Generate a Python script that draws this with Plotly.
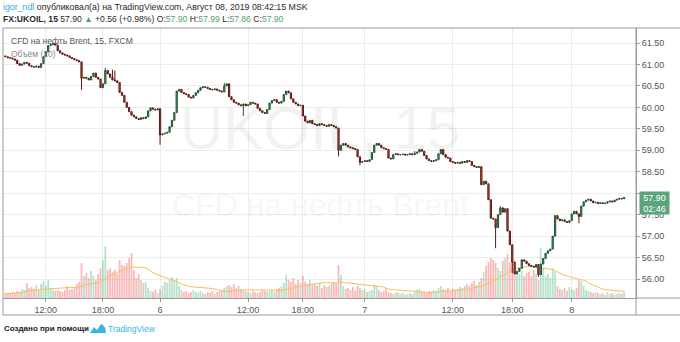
import plotly.graph_objects as go
import pandas as pd

# ---------------- data (15-min bars, FX:UKOIL) ----------------
close = [
    61.18, 61.16, 61.15, 61.13, 61.10, 61.02, 60.98, 61.01, 61.05, 61.03,
    60.97, 60.95, 60.94, 60.96, 60.93, 61.02, 61.18, 61.30, 61.44, 61.46,
    61.49, 61.45, 61.32, 61.27, 61.24, 61.22, 61.20, 61.16, 61.14, 61.11,
    61.09, 61.06, 60.68, 60.70, 60.68, 60.64, 60.72, 60.80, 60.70, 60.66,
    60.46, 60.55, 60.86, 60.78, 60.70, 60.64, 60.62, 60.58, 60.35, 60.28,
    60.12, 60.00, 59.90, 59.82, 59.78, 59.74, 59.72, 59.76, 59.74, 59.78,
    59.92, 59.99, 59.96, 59.94, 59.97, 59.36, 59.38, 59.40, 59.42, 59.55,
    59.70, 59.88, 60.38, 60.42, 60.35, 60.32, 60.30, 60.24, 60.22, 60.28,
    60.34, 60.40, 60.46, 60.48, 60.47, 60.44, 60.42, 60.41, 60.43, 60.40,
    60.38, 60.36, 60.50, 60.55, 60.25, 60.18, 60.12, 60.10, 60.06, 60.04,
    60.08, 60.04, 60.06, 60.12, 60.10, 60.08, 59.98, 59.92, 59.88, 59.86,
    59.95, 60.10, 60.16, 60.18, 60.12, 60.10, 60.14, 60.30, 60.38, 60.34,
    60.20, 60.12, 60.08, 60.04, 60.05, 59.80, 59.68, 59.64, 59.70, 59.62,
    59.60, 59.58, 59.62, 59.60, 59.58, 59.56, 59.60, 59.58, 59.55, 59.52,
    59.00, 59.12, 59.16, 59.12, 59.08, 59.06, 59.04, 59.02, 58.85, 58.72,
    58.74, 58.76, 58.74, 58.78, 58.95, 59.12, 59.16, 59.12, 59.06, 59.04,
    59.02, 58.82, 58.80, 58.90, 58.92, 58.90, 58.90, 58.91, 58.89, 58.90,
    58.92, 58.90, 58.93, 58.96, 59.02, 58.98, 58.88, 58.80, 58.76, 58.74,
    58.76, 58.78, 58.92, 59.02, 58.90, 58.84, 58.82, 58.74, 58.72, 58.70,
    58.72, 58.70, 58.74, 58.72, 58.76, 58.74, 58.65, 58.62, 58.60, 58.62,
    58.20, 58.28, 58.22, 57.85, 57.42, 57.40, 57.20, 57.50, 57.66, 57.56,
    57.64, 57.12, 56.80, 56.40, 56.12, 56.18, 56.25, 56.45, 56.42, 56.36,
    56.32, 56.30, 56.28, 56.34, 56.10, 56.35, 56.48, 56.60, 56.66, 56.70,
    57.00, 57.48, 57.40, 57.36, 57.38, 57.34, 57.32, 57.36, 57.52, 57.58,
    57.52, 57.46, 57.70, 57.80, 57.84, 57.86, 57.82, 57.78, 57.79, 57.76,
    57.78, 57.76, 57.77, 57.80, 57.82, 57.80, 57.84, 57.86, 57.88, 57.87,
    57.90,
]
first_open = 61.20

volume = [
    5, 4, 4, 6, 5, 7, 5, 9, 8, 15,
    10, 11, 9, 13, 8, 14, 17, 12, 18, 10,
    8, 7, 8, 7, 6, 8, 12, 8, 9, 11,
    14, 16, 35, 22, 25, 20, 27, 22, 18, 24,
    30, 38, 52, 28, 30, 26, 28, 24, 38, 33,
    32, 35, 40, 45, 28, 20, 24, 18, 15, 16,
    10, 7, 6, 8, 5, 9, 12, 16, 15, 18,
    21, 18, 20, 12, 8, 6, 7, 5, 6, 8,
    6, 5, 7, 5, 4, 6, 5, 7, 4, 6,
    7, 8, 10, 12, 13, 11, 14, 10, 12, 9,
    8, 7, 6, 5, 7, 6, 5, 6, 8, 7,
    6, 7, 8, 6, 9, 10, 12, 15, 23, 18,
    16, 20, 14, 18, 15, 22, 16, 14, 18, 13,
    14, 12, 15, 10, 13, 11, 12, 14, 16, 14,
    33, 23, 12, 9, 10, 8, 11, 7, 12, 10,
    8, 9, 6, 7, 8, 13, 12, 8, 6, 7,
    9, 6, 5, 4, 6, 5, 4, 5, 3, 4,
    5, 4, 6, 8, 9, 7, 6, 5, 7, 6,
    8, 7, 10, 12, 9, 8, 10, 7, 9, 8,
    9, 11, 10, 12, 14, 12, 15, 17, 13, 16,
    20, 26, 32, 36, 40, 38, 35, 30, 27, 37,
    40, 44, 36, 38, 28, 26, 24, 27, 22, 25,
    26, 22, 28, 24, 18, 50, 30, 22, 24, 20,
    30, 26, 12, 9, 8, 10, 7, 11, 9, 8,
    10, 18, 17, 12, 8, 7, 6, 5, 6, 5,
    4, 5, 3, 6, 4, 5, 3, 4, 5, 4, 6,
]

# notable wick extremes (bar index -> price)
wick_high = {42: 60.92, 45: 60.88, 46: 60.86, 92: 60.57, 208: 57.70, 172: 58.98}
wick_low = {32: 60.41, 65: 59.13, 100: 59.80, 140: 58.86, 149: 58.65,
            206: 56.72, 213: 56.14, 224: 56.05, 241: 57.30}

tick_idx = [17, 41, 65, 102, 125, 151, 188, 213, 238]
tick_text = ["12:00", "18:00", "6", "12:00", "18:00", "7", "12:00", "18:00", "8"]
price_ticks = [56.0, 56.5, 57.0, 57.5, 58.0, 58.5, 59.0, 59.5, 60.0, 60.5, 61.0, 61.5]
# 58.00 sits fully under the last-price label in the reference
price_tick_text = ["56.00", "56.50", "57.00", "57.50", "", "58.50", "59.00", "59.50",
                   "60.00", "60.50", "61.00", "61.50"]

# ---------------- derived ----------------
n = len(close)
idx = list(range(n))
opens = [first_open] + close[:-1]
highs = [max(o, c) for o, c in zip(opens, close)]
lows = [min(o, c) for o, c in zip(opens, close)]
for k, v in wick_high.items():
    highs[k] = max(highs[k], v)
for k, v in wick_low.items():
    lows[k] = min(lows[k], v)
vol_ma = pd.Series(volume).rolling(20, min_periods=1).mean().tolist()
up = [c >= o for o, c in zip(opens, close)]
vol_colors = ["rgba(83,185,135,0.42)" if u else "rgba(239,83,80,0.40)" for u in up]

W, H = 680, 342
L, R, T, B = 3, 636, 28, 298


def px(xp):
    return (xp - L) / (R - L)


def py(yp):
    return (B - yp) / (B - T)


fig = go.Figure()
fig.add_trace(go.Bar(x=idx, y=volume, marker=dict(color=vol_colors, line=dict(width=0)),
                     yaxis="y", hoverinfo="skip"))
fig.add_trace(go.Scatter(x=idx, y=vol_ma, mode="lines", line=dict(color="#f6c05a", width=1),
                         yaxis="y", hoverinfo="skip"))
fig.add_trace(go.Candlestick(
    x=idx, open=opens, high=highs, low=lows, close=close, yaxis="y2",
    increasing=dict(line=dict(color="#225437", width=1), fillcolor="#6ba583"),
    decreasing=dict(line=dict(color="#5b1a13", width=1), fillcolor="#d75442"),
    whiskerwidth=0, hoverinfo="skip"))

grid = "#ececec"
axis_line = "#9a9a9a"
fig.update_layout(
    width=W, height=H,
    margin=dict(l=L, r=W - R, t=T, b=H - B),
    paper_bgcolor="white", plot_bgcolor="white",
    showlegend=False, bargap=0.25, boxgap=0.25,
    font=dict(family="Liberation Sans, Arial, sans-serif", color="#4a4a4a", size=9),
    xaxis=dict(range=[-1, 265], tickmode="array", tickvals=tick_idx, ticktext=tick_text,
               showgrid=True, gridcolor=grid, gridwidth=1, zeroline=False,
               ticks="outside", ticklen=3, tickcolor=axis_line,
               tickfont=dict(size=9, color="#555555"),
               rangeslider=dict(visible=False), showline=True, linecolor=axis_line),
    yaxis=dict(range=[0, 270], showgrid=False, showticklabels=False, zeroline=False,
               fixedrange=True),
    yaxis2=dict(range=[55.56, 61.85], overlaying="y", side="right", tickmode="array",
                tickvals=price_ticks, ticktext=price_tick_text,
                showgrid=True, gridcolor=grid, gridwidth=1, zeroline=False,
                ticks="outside", ticklen=3, tickcolor=axis_line,
                tickfont=dict(size=9, color="#555555"),
                showline=True, linecolor=axis_line),
)

shapes = [
    dict(type="line", xref="paper", yref="paper", x0=px(3), x1=px(680), y0=py(28), y1=py(28),
         line=dict(color=axis_line, width=1)),
    dict(type="line", xref="paper", yref="paper", x0=px(3), x1=px(3), y0=py(28), y1=py(315),
         line=dict(color=axis_line, width=1)),
    dict(type="line", xref="paper", yref="paper", x0=px(636), x1=px(636), y0=py(28), y1=py(315),
         line=dict(color=axis_line, width=1)),
    dict(type="line", xref="paper", yref="paper", x0=px(3), x1=px(680), y0=py(315), y1=py(315),
         line=dict(color=axis_line, width=1)),
    dict(type="line", xref="paper", yref="paper", x0=px(636), x1=px(680), y0=py(298), y1=py(298),
         line=dict(color=axis_line, width=1)),
    # TradingView logo mark (cloud with chart line)
    dict(type="path", xref="paper", yref="paper",
         path=(f"M {px(90)} {py(333)} L {px(94)} {py(327)} L {px(97)} {py(330)} "
               f"L {px(101)} {py(324)} Q {px(106)} {py(326)} {px(106)} {py(333)} Z"),
         fillcolor="#3bb3e4", line=dict(width=0)),
]
fig.update_layout(shapes=shapes)

ann = []
# watermark
ann.append(dict(xref="paper", yref="paper", x=px(320), y=py(128), text="UKOIL, 15",
                showarrow=False, font=dict(size=60, color="rgba(0,0,0,0.05)",
                                           family="Liberation Sans, Arial"),
                xanchor="center", yanchor="middle"))
ann.append(dict(xref="paper", yref="paper", x=px(320), y=py(205), text="CFD на нефть Brent",
                showarrow=False, font=dict(size=32, color="rgba(0,0,0,0.05)",
                                           family="Liberation Sans, Arial"),
                xanchor="center", yanchor="middle"))
# header
ann.append(dict(xref="paper", yref="paper", x=px(1), y=py(7), xanchor="left", yanchor="middle",
                showarrow=False,
                text=('<span style="color:#3aa9de">igor_ndl</span> опубликовал(а) на '
                      'TradingView.com, Август 08, 2019 08:42:15 MSK'),
                font=dict(size=8.8, color="#2a2a2a")))
g = "#4fa36f"
ann.append(dict(xref="paper", yref="paper", x=px(1), y=py(19), xanchor="left", yanchor="middle",
                showarrow=False,
                text=(f'<b>FX:UKOIL, 15</b> 57.90 <span style="color:{g}">▲</span> +0.56 (+0.98%) '
                      f'O:<span style="color:{g}">57.90</span> H:<span style="color:{g}">57.99</span> '
                      f'L:<span style="color:{g}">57.86</span> C:<span style="color:{g}">57.90</span>'),
                font=dict(size=8.6, color="#2a2a2a")))
# in-pane legend
ann.append(dict(xref="paper", yref="paper", x=px(9), y=py(41), xanchor="left", yanchor="middle",
                showarrow=False, text="CFD на нефть Brent, 15, FXCM",
                font=dict(size=8.5, color="#555555")))
ann.append(dict(xref="paper", yref="paper", x=px(9), y=py(54), xanchor="left", yanchor="middle",
                showarrow=False, text="Объём (20)", font=dict(size=8.5, color="#888888")))
# last price labels
ann.append(dict(xref="paper", yref="y2", x=px(639), y=close[-1], xanchor="left", yanchor="middle",
                showarrow=False, text=f"{close[-1]:.2f}", bgcolor="#5aa57c", width=29, height=11,
                borderpad=0, font=dict(size=9, color="white")))
ann.append(dict(xref="paper", yref="paper", x=px(639), y=py(208), xanchor="left", yanchor="middle",
                showarrow=False, text="02:46", bgcolor="#5aa57c", width=29, height=11,
                borderpad=0, font=dict(size=9, color="white")))
# footer
ann.append(dict(xref="paper", yref="paper", x=px(2), y=py(329), xanchor="left", yanchor="middle",
                showarrow=False, text="<b>Создано при помощи</b>",
                font=dict(size=8, color="#222222")))
ann.append(dict(xref="paper", yref="paper", x=px(106), y=py(329), xanchor="left", yanchor="middle",
                showarrow=False, text="TradingView", font=dict(size=8.5, color="#3bb3e4")))
fig.update_layout(annotations=ann)

fig.write_html("out.html")
